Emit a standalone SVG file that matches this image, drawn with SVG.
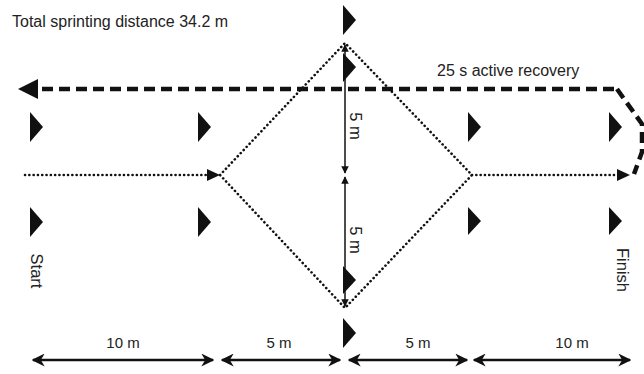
<svg xmlns="http://www.w3.org/2000/svg" width="644" height="374" viewBox="0 0 644 374">
<style>
text{font-family:"Liberation Sans",Arial,sans-serif;fill:#222;font-size:15px}
.big{font-size:16px}
.rot{font-size:16.5px}
.cone{fill:#111}
.dot{fill:none;stroke:#111;stroke-width:2.6;stroke-dasharray:0.1 4.2;stroke-linecap:round}
.dash{fill:none;stroke:#111;stroke-width:4.5;stroke-dasharray:11 6}
.meas{fill:none;stroke:#111;stroke-width:2.6}
.vmeas{fill:none;stroke:#111;stroke-width:1.5}
</style>
<defs>
<marker id="ah" viewBox="0 0 10 10" refX="9" refY="5" markerWidth="5" markerHeight="5" orient="auto-start-reverse" markerUnits="strokeWidth">
<path d="M0,0 L10,5 L0,10 L3,5 z" fill="#111"/>
</marker>
<marker id="sh" viewBox="0 0 10 10" refX="9" refY="5" markerWidth="5" markerHeight="6" orient="auto-start-reverse" markerUnits="strokeWidth">
<path d="M0,0 L10,5 L0,10 z" fill="#111"/>
</marker>
</defs>
<text class="big" x="12" y="27">Total sprinting distance 34.2 m</text>
<text class="big" x="437" y="76">25 s active recovery</text>
<g id="cones">
<path class="cone" d="M30,112 L43,127 L30,142 z"/>
<path class="cone" d="M30,207 L43,222 L30,237 z"/>
<path class="cone" d="M198,112 L211,127 L198,142 z"/>
<path class="cone" d="M198,207 L211,222 L198,237 z"/>
<path class="cone" d="M343,5 L356,20 L343,35 z"/>
<path class="cone" d="M343,53 L356,67 L343,82 z"/>
<path class="cone" d="M343,266 L356,280 L343,294 z"/>
<path class="cone" d="M343,318 L356,333 L343,348 z"/>
<path class="cone" d="M468,112 L481,127 L468,142 z"/>
<path class="cone" d="M468,207 L481,221 L468,235 z"/>
<path class="cone" d="M609,112 L622,127 L609,142 z"/>
<path class="cone" d="M609,207 L622,221 L609,235 z"/>
</g>
<g id="connectors">
<path class="dash" d="M614,89 L36,89"/>
<path d="M18,89 L38,79 L38,99 z" fill="#111"/>
<path class="dash" d="M617,89 L642,124 L642,152 L634,174"/>
<path class="dot" d="M25,175 L210,175"/>
<path d="M220,175 L207,169 L207,181 z" fill="#111"/>
<path class="dot" d="M220,175 L345,43 L472,175 L345,308 z"/>
<path class="dot" d="M472,175 L619,175"/>
<path d="M630,175 L617,169 L617,181 z" fill="#111"/>
<path class="vmeas" d="M345,45 L345,173" marker-start="url(#sh)" marker-end="url(#sh)"/>
<path class="vmeas" d="M345,177 L345,306" marker-start="url(#sh)" marker-end="url(#sh)"/>
<path class="meas" d="M33,360 L213,360" marker-start="url(#ah)" marker-end="url(#ah)"/>
<path class="meas" d="M222,360 L340,360" marker-start="url(#ah)" marker-end="url(#ah)"/>
<path class="meas" d="M349,360 L467,360" marker-start="url(#ah)" marker-end="url(#ah)"/>
<path class="meas" d="M474,360 L630,360" marker-start="url(#ah)" marker-end="url(#ah)"/>
</g>
<text x="123" y="348" text-anchor="middle">10 m</text>
<text x="279" y="348" text-anchor="middle">5 m</text>
<text x="418" y="348" text-anchor="middle">5 m</text>
<text x="572" y="348" text-anchor="middle">10 m</text>
<text class="rot" transform="translate(350,126) rotate(90)" text-anchor="middle">5 m</text>
<text class="rot" transform="translate(350,240) rotate(90)" text-anchor="middle">5 m</text>
<text class="rot" transform="translate(31,271) rotate(90)" text-anchor="middle">Start</text>
<text class="rot" transform="translate(617,270) rotate(90)" text-anchor="middle">Finish</text>
</svg>
